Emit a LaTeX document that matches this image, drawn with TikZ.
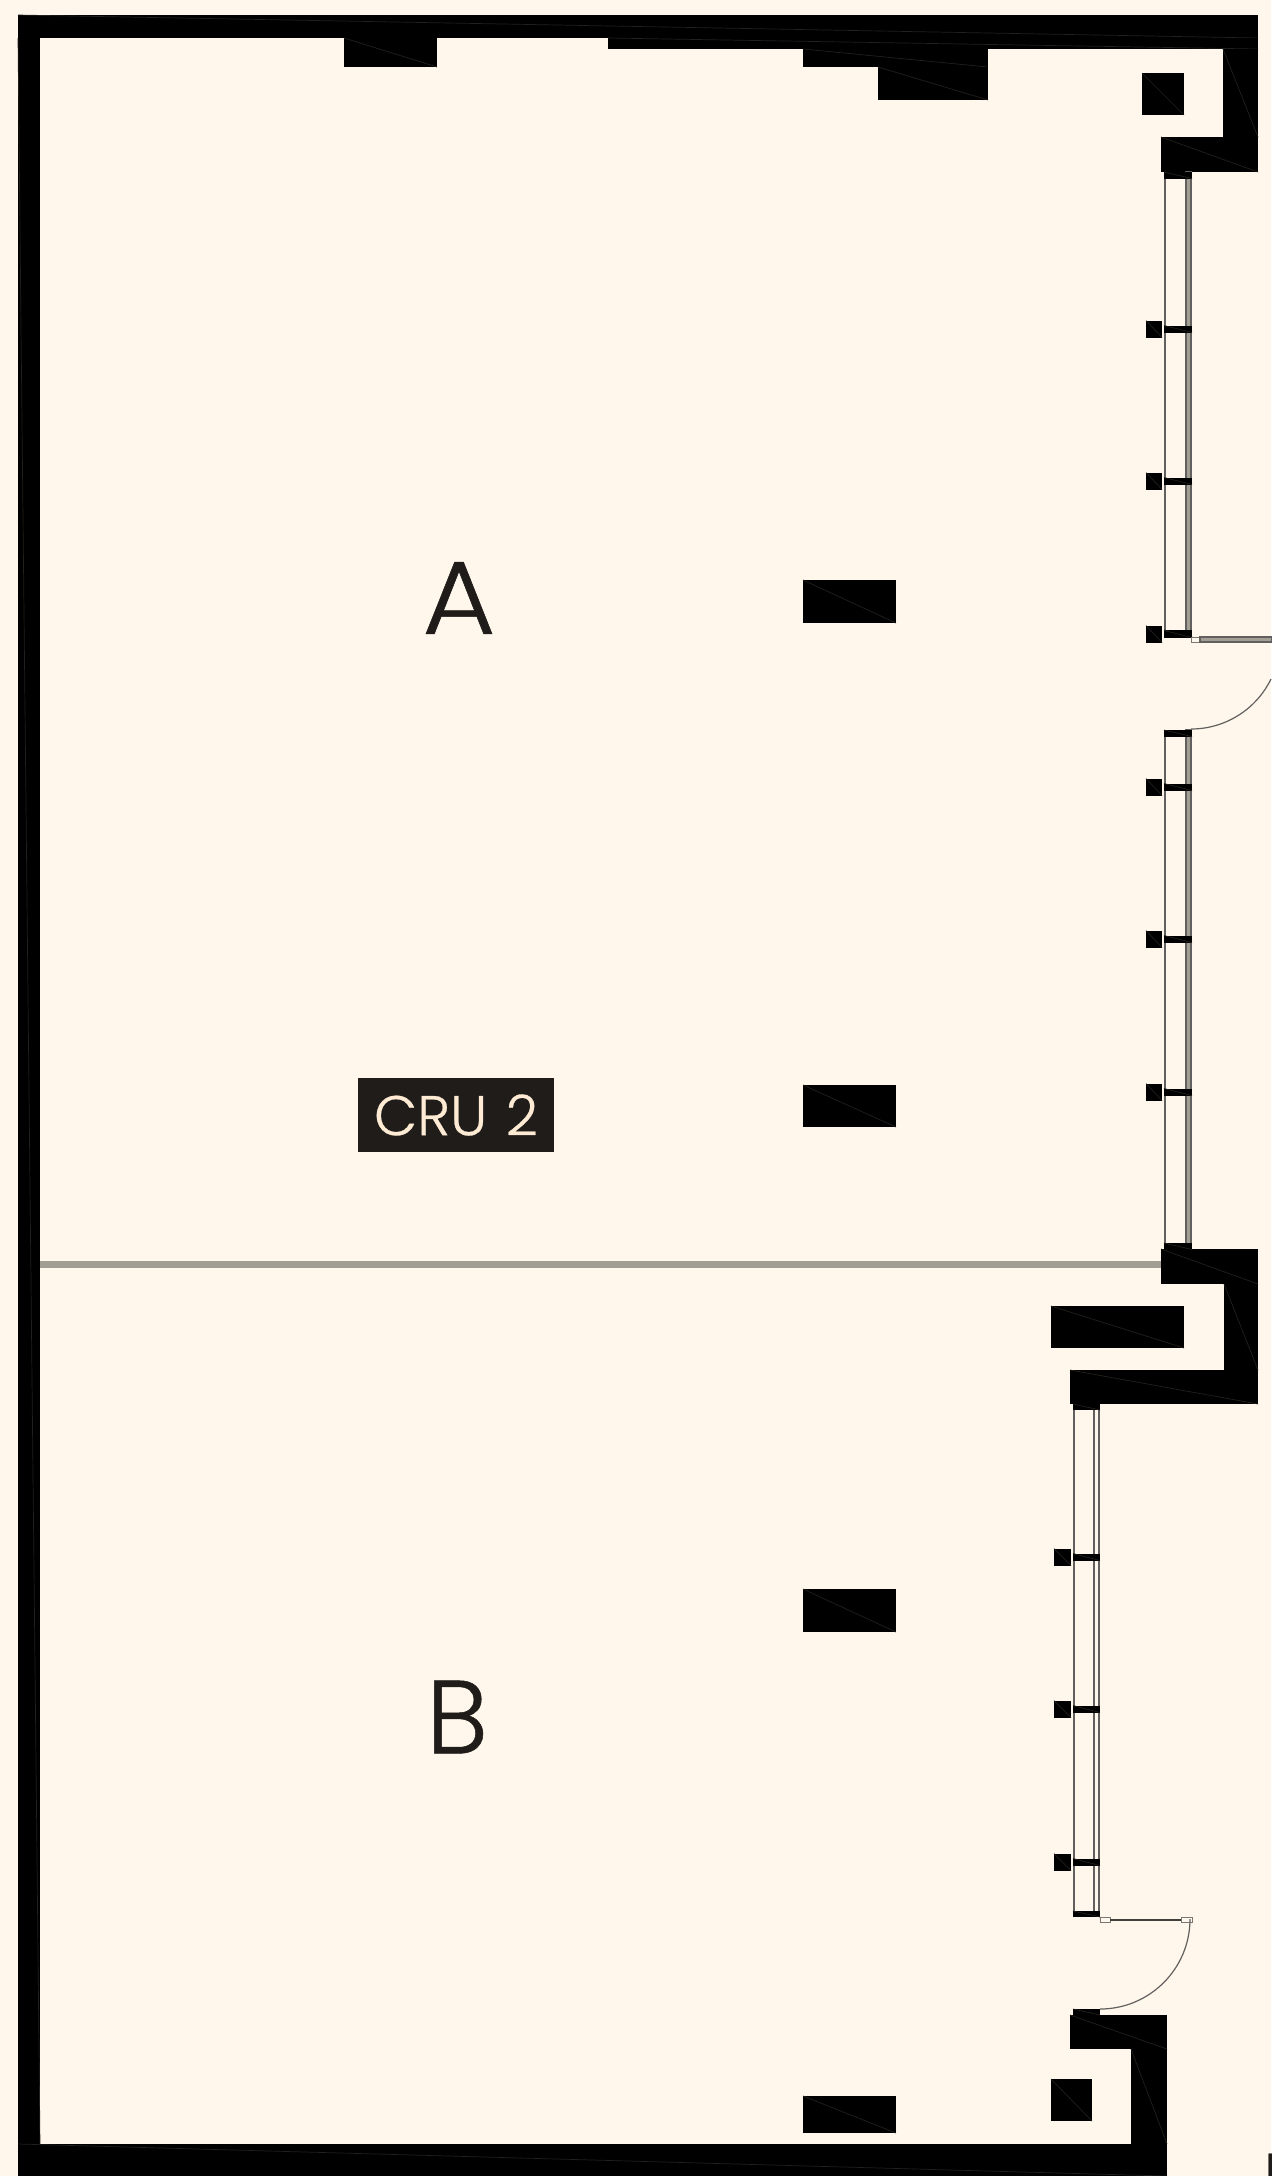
\documentclass[tikz,border=0pt]{standalone}
\usepackage{fontspec}
\newfontfamily\planfont{Poppins Light}[UprightFeatures={FakeBold=0.5}]
\definecolor{paper}{HTML}{FFF7EC}
\definecolor{ink}{HTML}{1F1C1A}
\definecolor{partition}{HTML}{A39E93}
\definecolor{seam}{HTML}{22201E}
\tikzset{
    wall/.style={fill=black,draw=none},
    seamline/.style={draw=seam,line width=0.35pt},
    glazing/.style={draw=ink!70,line width=0.6pt},
    leaf/.style={draw=ink!60,fill=paper,line width=0.5pt},
    swing/.style={draw=ink!70,line width=0.6pt},
    letter/.style={text=ink,font=\planfont\fontsize{52}{52}\selectfont,inner sep=0pt}
}
% one solid block with its faint diagonal
\newcommand{\block}[4]{
    \fill[wall] (#1,#2) rectangle (#3,#4);
    \draw[seamline] (#1,#2) -- (#3,#4);
}
\begin{document}
\begin{tikzpicture}[x=0.5pt,y=-0.5pt]

    \useasboundingbox (0,0) rectangle (1271,2176);
    \fill[paper] (0,0) rectangle (1271,2176);

    % outer walls
    \block{18}{15}{1258}{38}
    \block{608}{38}{1258}{49}
    \block{18}{38}{40}{2144}
    \block{18}{2144}{1167}{2176}

    % top recess blocks
    \block{344}{38}{437}{67}
    \block{803}{49}{988}{67}
    \block{878}{67}{988}{100}
    \block{1142}{73}{1184}{115}

    % right wall, upper part
    \block{1223}{49}{1258}{137}
    \block{1161}{137}{1258}{172}
    \block{1161}{1249}{1258}{1284}
    \block{1224}{1284}{1258}{1370}
    \block{1070}{1370}{1258}{1404}
    \block{1051}{1306}{1184}{1348}

    % right wall, lower part
    \block{1070}{2015}{1167}{2049}
    \block{1131}{2049}{1167}{2144}
    \block{1051}{2079}{1092}{2121}

    % free standing columns
    \foreach \top/\bottom in {580/623, 1085/1127, 1589/1632, 2096/2133}
        {
        \block{803}{\top}{896}{\bottom}
        }

    % partition
    \fill[partition] (40,1261) rectangle (1161,1268);

    % upper windows
    \foreach \head/\sill in {172/637, 730/1249}
        {
        \draw[glazing] (1165,\head) -- (1165,\sill);
        \draw[glazing,fill=partition] (1186,\head) rectangle (1191,\sill);
        }
    \foreach \head in {172, 630, 730, 1243}
        {
        \block{1164}{\head}{1192}{\head+6.5}
        }
    \foreach \y in {329, 481, 634, 787, 939, 1092}
        {
        \block{1146}{\y-8.5}{1162}{\y+8.5}
        \block{1164}{\y-3.5}{1192}{\y+3.5}
        }

    % lower window
    \foreach \x in {1074, 1094, 1099}
        {
        \draw[glazing] (\x,1404) -- (\x,1917);
        }
    \foreach \head in {1404, 1911, 2009}
        {
        \block{1073}{\head}{1100}{\head+6}
        }
    \foreach \y in {1557, 1709, 1862}
        {
        \block{1054}{\y-8.5}{1071}{\y+8.5}
        \block{1073}{\y-3.5}{1100}{\y+3.5}
        }

    % upper door
    \draw[leaf] (1191,637) rectangle (1200,642);
    \draw[glazing,fill=partition] (1200,637) rectangle (1272,642);
    \draw[swing] (1191,729) arc[start angle=90,end angle=26,radius=89];

    % lower door
    \draw[leaf] (1100,1917) rectangle (1110,1922);
    \draw[ink!85,line width=1pt] (1110,1919.5) -- (1181,1919.5);
    \draw[leaf] (1181,1917) rectangle (1192,1922);
    \draw[swing] (1100,2009) arc[start angle=90,end angle=0,radius=90];

    % labels
    \node[letter,xscale=1.08] (labelA) at (459,598) {A};
    \node[letter] (labelB) at (457,1717) {B};
    \node[fill=ink,text=paper!90!orange,minimum width=98pt,minimum height=37pt,inner sep=0pt,
          font=\planfont\fontsize{28}{28}\selectfont] (tag) at (456,1115) {CRU\,\,2};
    \node[letter,anchor=north west,font=\planfont\fontsize{27}{27}\selectfont,text height=19pt] (cutoff) at (1264,2153) {N};

\end{tikzpicture}
\end{document}
